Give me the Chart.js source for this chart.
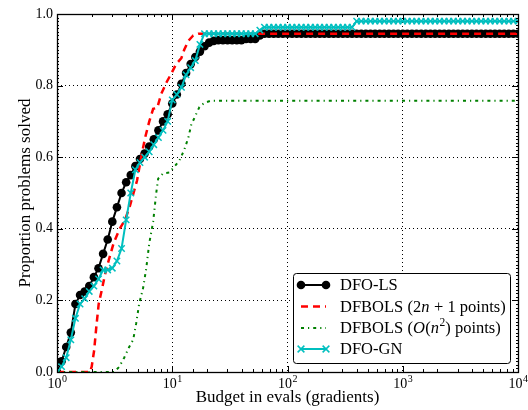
<!DOCTYPE html>
<html><head><meta charset="utf-8">
<script src="https://cdn.jsdelivr.net/npm/chart.js@4"></script>
<style>html,body{margin:0;padding:0;background:#fff}#wrap{width:528px;height:410px}</style>
</head><body><div id="wrap"><canvas id="c" width="528" height="410"></canvas></div>
<script>
// Budget grid (gradients): mantissas per decade
const budgetMantissa = [1.000,1.096,1.202,1.318,1.445,1.585,1.738,1.905,2.089,2.291,2.512,2.754,3.020,3.311,3.631,3.981,4.365,4.786,5.248,5.754,6.310,6.918,7.586,8.318,9.120];
const budgetDecades = [1, 10, 100, 1000];
const budgetEnd = 10000;

const dfoLsValues = [0.00,0.03,0.07,0.11,0.19,0.215,0.225,0.24,0.265,0.29,0.33,0.37,0.42,0.46,0.50,0.53,0.55,0.575,0.595,0.61,0.63,0.65,0.675,0.70,0.72,
0.75,0.775,0.805,0.835,0.86,0.88,0.895,0.91,0.92,0.925,0.927,0.927,0.927,0.927,0.927,0.927,0.93,0.93,0.93,0.94,0.945,0.945,0.945,0.945,0.945,
0.945,0.945,0.945,0.945,0.945,0.945,0.945,0.945,0.945,0.945,0.945,0.945,0.945,0.945,0.945,0.945,0.945,0.945,0.945,0.945,0.945,0.945,0.945,0.945,0.945,
0.945,0.945,0.945,0.945,0.945,0.945,0.945,0.945,0.945,0.945,0.945,0.945,0.945,0.945,0.945,0.945,0.945,0.945,0.945,0.945,0.945,0.945,0.945,0.945,0.945,
0.945];
const dfoGnValues = [0.00,0.015,0.04,0.09,0.15,0.19,0.205,0.225,0.24,0.26,0.285,0.285,0.29,0.31,0.345,0.425,0.50,0.565,0.585,0.60,0.615,0.635,0.655,0.675,0.70,
0.76,0.775,0.795,0.83,0.85,0.87,0.915,0.945,0.945,0.945,0.945,0.945,0.945,0.945,0.945,0.945,0.945,0.945,0.945,0.955,0.963,0.963,0.963,0.963,0.963,
0.963,0.963,0.963,0.963,0.963,0.963,0.963,0.963,0.963,0.963,0.963,0.963,0.963,0.963,0.963,0.98,0.98,0.98,0.98,0.98,0.98,0.98,0.98,0.98,0.98,
0.98,0.98,0.98,0.98,0.98,0.98,0.98,0.98,0.98,0.98,0.98,0.98,0.98,0.98,0.98,0.98,0.98,0.98,0.98,0.98,0.98,0.98,0.98,0.98,0.98,
0.98];
const dfbolsLinearX = [1,1.93,2.0,2.1,2.2,2.3,2.45,2.6,2.8,3.1,3.5,3.9,4.3,4.95,5.45,5.82,6.32,6.83,7.41,8.03,8.95,9.79,10.8,12.0,12.7,13.8,15.2,16.8,10000];
const dfbolsLinearY = [0,0,0.015,0.06,0.13,0.19,0.23,0.27,0.31,0.36,0.40,0.425,0.465,0.535,0.61,0.655,0.70,0.735,0.738,0.777,0.81,0.833,0.86,0.877,0.90,0.925,0.94,0.945,0.945];
const dfbolsQuadX = [1,3.13,3.46,3.83,4.23,4.58,4.86,5.16,5.59,5.95,6.32,6.83,7.26,7.55,8.35,9.42,10.2,11.5,12.7,13.8,14.6,16.1,17.2,19.0,21.8,10000];
const dfbolsQuadY = [0,0,0.014,0.04,0.07,0.09,0.135,0.19,0.235,0.29,0.36,0.42,0.50,0.54,0.555,0.557,0.57,0.59,0.62,0.655,0.69,0.72,0.74,0.752,0.758,0.758];

const seriesLabels = [
  [{t:'DFO-LS'}],
  [{t:'DFBOLS ('},{t:'2'},{t:'n',i:true},{t:' + 1 points)'}],
  [{t:'DFBOLS ('},{t:'O',i:true},{t:'('},{t:'n',i:true},{t:'2',sup:true},{t:') points)'}],
  [{t:'DFO-GN'}]
];
const xTickExponents = [0, 1, 2, 3, 4];
const xTitle = 'Budget in evals (gradients)';
const yTitle = 'Proportion problems solved';

const budgets = budgetDecades.flatMap(d => budgetMantissa.map(m => m * d)).concat([budgetEnd]);
const pts = (xs, ys) => xs.map((x, i) => ({x, y: ys[i]}));

const FONT = '"Liberation Serif", "DejaVu Serif", serif';
const isDecade = v => Math.abs(Math.log10(v) - Math.round(Math.log10(v))) < 1e-6;

const frameTicks = {
  id: 'frameTicks',
  afterDatasetsDraw(chart) {
    const {ctx, chartArea: a, scales: {x, y}} = chart;
    ctx.save();
    ctx.strokeStyle = '#000';
    ctx.lineWidth = 1;
    x.ticks.forEach(t => {
      const px = Math.round(x.getPixelForValue(t.value)) + 0.5;
      const len = isDecade(t.value) ? 6 : 3;
      ctx.beginPath();
      ctx.moveTo(px, a.bottom); ctx.lineTo(px, a.bottom - len);
      ctx.moveTo(px, a.top); ctx.lineTo(px, a.top + len);
      ctx.stroke();
    });
    for (let i = 0; i <= 100; i++) {
      const py = Math.round(y.getPixelForValue(i / 100)) + 0.5;
      const len = i % 20 === 0 ? 6 : 2;
      ctx.beginPath();
      ctx.moveTo(a.left, py); ctx.lineTo(a.left + len, py);
      ctx.moveTo(a.right, py); ctx.lineTo(a.right - len, py);
      ctx.stroke();
    }
    ctx.lineWidth = 1.3;
    ctx.strokeRect(Math.round(a.left) + 0.5, Math.round(a.top) + 0.5, Math.round(a.right - a.left), Math.round(a.bottom - a.top));
    ctx.fillStyle = '#000';
    ctx.textBaseline = 'alphabetic';
    xTickExponents.forEach(k => {
      const px = x.getPixelForValue(Math.pow(10, k));
      ctx.font = '14px ' + FONT;
      const w1 = ctx.measureText('10').width;
      ctx.font = '10px ' + FONT;
      const w2 = ctx.measureText(String(k)).width;
      const left = px - (w1 + w2) / 2;
      ctx.font = '14px ' + FONT;
      ctx.textAlign = 'left';
      ctx.fillText('10', left, a.bottom + 16);
      ctx.font = '10px ' + FONT;
      ctx.fillText(String(k), left + w1 + 0.5, a.bottom + 10);
    });
    ctx.restore();
  },
  afterDraw(chart) {
    const {ctx} = chart;
    const ds = chart.data.datasets;
    const bx = 293, by = 273, bw = 217, bh = 90;
    ctx.save();
    ctx.fillStyle = '#fff';
    ctx.strokeStyle = '#000';
    ctx.lineWidth = 1;
    ctx.beginPath();
    ctx.roundRect(bx + 0.5, by + 0.5, bw, bh, 3);
    ctx.fill(); ctx.stroke();
    const rows = [285, 306.5, 328, 349];
    seriesLabels.forEach((segs, idx) => {
      const d = ds[idx];
      const yy = rows[idx];
      const x1 = 301, x2 = 326;
      ctx.save();
      ctx.strokeStyle = d.borderColor;
      ctx.lineWidth = d.borderWidth;
      ctx.setLineDash(d.borderDash || []);
      ctx.beginPath(); ctx.moveTo(x1, yy); ctx.lineTo(x2, yy); ctx.stroke();
      ctx.setLineDash([]);
      if (d.pointRadius > 0) {
        [x1, x2].forEach(px => {
          if (d.pointStyle === 'circle') {
            ctx.fillStyle = d.pointBackgroundColor;
            ctx.beginPath(); ctx.arc(px, yy, d.pointRadius, 0, Math.PI * 2); ctx.fill();
          } else {
            const r = d.pointRadius * 0.75;
            ctx.lineWidth = d.pointBorderWidth;
            ctx.beginPath();
            ctx.moveTo(px - r, yy - r); ctx.lineTo(px + r, yy + r);
            ctx.moveTo(px - r, yy + r); ctx.lineTo(px + r, yy - r);
            ctx.stroke();
          }
        });
      }
      ctx.restore();
      let tx = 340;
      ctx.fillStyle = '#000';
      ctx.textBaseline = 'middle';
      ctx.textAlign = 'left';
      segs.forEach(s => {
        const size = s.sup ? 11.5 : 16.5;
        ctx.font = (s.i ? 'italic ' : '') + size + 'px ' + FONT;
        ctx.fillText(s.t, tx, s.sup ? yy - 5 : yy + 1);
        tx += ctx.measureText(s.t).width + (s.i ? 0.5 : 0);
      });
    });
    ctx.restore();
  }
};

new Chart(document.getElementById('c'), {
  type: 'line',
  data: {
    datasets: [
      {label: 'DFO-LS', data: pts(budgets, dfoLsValues), borderColor: '#000000', backgroundColor: '#000000',
       borderWidth: 2, pointStyle: 'circle', pointRadius: 4.3, pointBackgroundColor: '#000000', pointBorderColor: '#000000',
       pointBorderWidth: 0, order: 4},
      {label: 'DFBOLS (2n+1 points)', data: pts(dfbolsLinearX, dfbolsLinearY), borderColor: '#ff0000',
       borderWidth: 2.5, borderDash: [7, 5], pointRadius: 0, order: 3},
      {label: 'DFBOLS (O(n^2) points)', data: pts(dfbolsQuadX, dfbolsQuadY), borderColor: '#008000',
       borderWidth: 2, borderDash: [3, 4, 1.2, 4], pointRadius: 0, order: 2},
      {label: 'DFO-GN', data: pts(budgets, dfoGnValues), borderColor: '#00bfbf', backgroundColor: '#00bfbf',
       borderWidth: 2, pointStyle: 'crossRot', pointRadius: 4.5, pointBorderColor: '#00bfbf', pointBorderWidth: 1.5,
       order: 1}
    ]
  },
  options: {
    responsive: false,
    animation: false,
    devicePixelRatio: 1,
    layout: {padding: {top: 14, right: 10, left: 0, bottom: 0}},
    plugins: {legend: {display: false}, tooltip: {enabled: false}},
    elements: {line: {tension: 0}},
    scales: {
      x: {
        type: 'logarithmic', min: 1, max: 10000,
        afterFit: s => { s.height = 38; },
        ticks: {display: false},
        grid: {drawTicks: false, lineWidth: 1,
               color: c => (c.tick && isDecade(c.tick.value)) ? '#000' : 'rgba(0,0,0,0)'},
        border: {display: false, dash: [1, 3]},
        title: {display: true, text: xTitle, color: '#000', font: {family: FONT, size: 17}, padding: {top: 0, bottom: 2}}
      },
      y: {
        min: 0, max: 1,
        afterFit: s => { s.width = 57; },
        ticks: {stepSize: 0.2, padding: 4, color: '#000', font: {family: FONT, size: 14},
                callback: v => Number(v).toFixed(1)},
        grid: {drawTicks: false, lineWidth: 1, color: '#000'},
        border: {display: false, dash: [1, 3]},
        title: {display: true, text: yTitle, color: '#000', font: {family: FONT, size: 17}, padding: {top: 15, bottom: 0}}
      }
    }
  },
  plugins: [frameTicks]
});
</script>
</body></html>
